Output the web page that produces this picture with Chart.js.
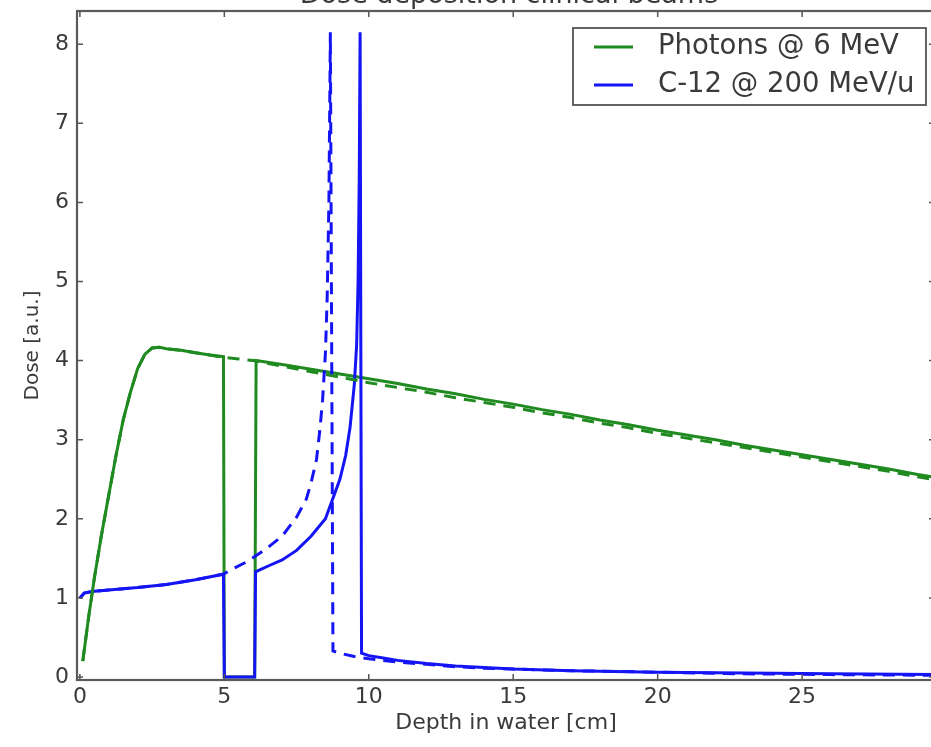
<!DOCTYPE html>
<html>
<head>
<meta charset="utf-8">
<title>Dose deposition clinical beams</title>
<script src="https://cdn.jsdelivr.net/npm/chart.js@4"></script>
<style>
  html, body { margin: 0; padding: 0; background: #fff; overflow: hidden; }
  #wrap { width: 940px; height: 747px; }
</style>
</head>
<body>
<div id="wrap"><canvas id="dose-chart" width="940" height="747"></canvas></div>
<script>
// Photons @ 6 MeV, with the 5-6 cm air gap (solid)
const photonDepth = [0.1, 0.3, 0.5, 0.75, 1, 1.25, 1.5, 1.75, 2, 2.25, 2.5, 2.75, 3, 3.5, 4, 4.5, 4.97, 5.0,
  6.05, 6.1, 7, 8, 9, 10, 11, 12, 13, 14, 15, 16, 17, 18, 19, 20, 21, 22, 23, 24, 25, 26, 27, 28, 29, 30];
const photonDose = [0.2, 0.75, 1.25, 1.8, 2.3, 2.8, 3.25, 3.6, 3.9, 4.08, 4.16, 4.17, 4.15, 4.13, 4.1, 4.07, 4.05, 0,
  0, 4.0, 3.95, 3.89, 3.83, 3.77, 3.71, 3.64, 3.58, 3.51, 3.45, 3.38, 3.32, 3.25, 3.19, 3.12, 3.06, 3.0, 2.93, 2.87, 2.81, 2.75, 2.69, 2.63, 2.56, 2.5];

// Photons in plain water (dashed)
const photonWaterDepth = [0.1, 0.3, 0.5, 0.75, 1, 1.25, 1.5, 1.75, 2, 2.25, 2.5, 2.75, 3, 3.5, 4, 4.5, 5, 5.5,
  6, 7, 8, 9, 10, 11, 12, 13, 14, 15, 16, 17, 18, 19, 20, 21, 22, 23, 24, 25, 26, 27, 28, 29, 30];
const photonWaterDose = [0.2, 0.75, 1.25, 1.8, 2.3, 2.8, 3.25, 3.6, 3.9, 4.08, 4.16, 4.17, 4.15, 4.13, 4.1, 4.07, 4.04, 4.02,
  4.0, 3.93, 3.86, 3.79, 3.72, 3.66, 3.6, 3.53, 3.47, 3.41, 3.34, 3.28, 3.21, 3.15, 3.08, 3.02, 2.96, 2.9, 2.84, 2.78, 2.72, 2.66, 2.6, 2.53, 2.47];

// C-12 @ 200 MeV/u, with the air gap (solid)
const carbonDepth = [0, 0.15, 0.4, 1, 2, 3, 4, 4.97, 5.0, 6.05, 6.08, 6.5, 7, 7.5, 8, 8.5, 9, 9.2, 9.35, 9.5, 9.58,
  9.63, 9.67, 9.7, 9.75, 10, 10.5, 11, 12, 13, 14, 15, 17, 20, 23, 26, 30];
const carbonDose = [1.0, 1.06, 1.08, 1.1, 1.13, 1.17, 1.23, 1.3, 0, 0, 1.33, 1.4, 1.48, 1.6, 1.78, 2.0, 2.5, 2.8, 3.15, 3.7, 4.2,
  5.0, 6.3, 8.15, 0.3, 0.27, 0.24, 0.21, 0.17, 0.14, 0.12, 0.1, 0.08, 0.06, 0.05, 0.04, 0.03];

// C-12 in plain water (dashed)
const carbonWaterDepth = [0, 0.15, 0.4, 1, 2, 3, 4, 4.97, 5.3, 5.8, 6.45, 7, 7.25, 7.5, 7.84, 8.0, 8.19, 8.3, 8.4, 8.5,
  8.56, 8.62, 8.67, 8.76, 9, 9.5, 10, 11, 12, 13, 14, 15, 17, 20, 23, 26, 30];
const carbonWaterDose = [1.0, 1.06, 1.08, 1.1, 1.13, 1.17, 1.23, 1.3, 1.37, 1.46, 1.62, 1.78, 1.9, 2.02, 2.25, 2.45, 2.75, 3.1, 3.5, 4.1,
  4.8, 6.0, 8.15, 0.33, 0.3, 0.26, 0.23, 0.19, 0.16, 0.13, 0.11, 0.1, 0.08, 0.06, 0.04, 0.03, 0.02];

const xTicks = [0, 5, 10, 15, 20, 25];
const yTicks = [0, 1, 2, 3, 4, 5, 6, 7, 8];
const seriesLabels = ['Photons @ 6 MeV', 'C-12 @ 200 MeV/u'];

const GREEN = '#1f8a1f';
const BLUE = '#1414f5';
const TEXT = '#3a3a3a';
const FONT = 'DejaVu Sans';

function toPoints(xs, ys) {
    return xs.map((x, i) => ({ x: x, y: ys[i] }));
}

// cadre + graduations vers l'intérieur sur les quatre côtés
const framePlugin = {
    id: 'frame',
    afterDatasetsDraw(chart) {
        const { ctx, chartArea: a, scales } = chart;
        ctx.save();
        ctx.strokeStyle = '#555';
        ctx.lineWidth = 1.5;
        ctx.beginPath();
        xTicks.forEach(v => {
            const px = scales.x.getPixelForValue(v);
            ctx.moveTo(px, a.bottom); ctx.lineTo(px, a.bottom - 6);
            ctx.moveTo(px, a.top); ctx.lineTo(px, a.top + 6);
        });
        yTicks.forEach(v => {
            const py = scales.y.getPixelForValue(v);
            ctx.moveTo(a.left, py); ctx.lineTo(a.left + 6, py);
            ctx.moveTo(a.right, py); ctx.lineTo(a.right - 6, py);
        });
        ctx.stroke();
        ctx.lineWidth = 2.2;
        ctx.strokeStyle = '#5a5a5a';
        ctx.strokeRect(a.left, a.top, a.right - a.left, a.bottom - a.top);
        ctx.restore();
    }
};

// titre (coupé en haut) et légende encadrée en haut à droite
const legendPlugin = {
    id: 'boxLegend',
    afterDraw(chart) {
        const { ctx, chartArea: a } = chart;
        ctx.save();
        ctx.fillStyle = TEXT;
        ctx.font = '27px "' + FONT + '"';
        ctx.textAlign = 'center';
        ctx.textBaseline = 'alphabetic';
        ctx.fillText('Dose deposition clinical beams', (a.left + a.right) / 2 + 3, 3);

        const boxLeft = 573, boxTop = 28, boxW = 353, boxH = 77;
        ctx.fillStyle = '#fff';
        ctx.fillRect(boxLeft, boxTop, boxW, boxH);
        ctx.strokeStyle = '#555';
        ctx.lineWidth = 1.8;
        ctx.strokeRect(boxLeft, boxTop, boxW, boxH);

        const entries = [
            { label: seriesLabels[0], color: GREEN },
            { label: seriesLabels[1], color: BLUE }
        ];
        ctx.font = '27.5px "' + FONT + '"';
        ctx.textAlign = 'left';
        ctx.textBaseline = 'middle';
        entries.forEach((e, i) => {
            const y = boxTop + 19 + i * 38;
            ctx.strokeStyle = e.color;
            ctx.lineWidth = 3;
            ctx.beginPath();
            ctx.moveTo(boxLeft + 21, y);
            ctx.lineTo(boxLeft + 60, y);
            ctx.stroke();
            ctx.fillStyle = TEXT;
            ctx.fillText(e.label, boxLeft + 85, y);
        });
        ctx.restore();
    }
};

const ctx = document.getElementById('dose-chart').getContext('2d');

new Chart(ctx, {
    type: 'scatter',
    data: {
        datasets: [
            {
                label: 'C-12 water',
                data: toPoints(carbonWaterDepth, carbonWaterDose),
                borderColor: BLUE,
                borderDash: [12, 8],
                order: 1
            },
            {
                label: 'Photons water',
                data: toPoints(photonWaterDepth, photonWaterDose),
                borderColor: GREEN,
                borderDash: [12, 8],
                order: 2
            },
            {
                label: seriesLabels[1],
                data: toPoints(carbonDepth, carbonDose),
                borderColor: BLUE,
                order: 3
            },
            {
                label: seriesLabels[0],
                data: toPoints(photonDepth, photonDose),
                borderColor: GREEN,
                order: 4
            }
        ]
    },
    options: {
        responsive: false,
        animation: false,
        showLine: true,
        elements: {
            point: { radius: 0, hoverRadius: 0 },
            line: { borderWidth: 3, tension: 0, fill: false, borderJoinStyle: 'miter' }
        },
        layout: { padding: { left: 0, top: 11, right: 5, bottom: 0 } },
        plugins: {
            legend: { display: false },
            tooltip: { enabled: false }
        },
        scales: {
            x: {
                type: 'linear',
                min: -0.1,
                max: 29.6,
                afterBuildTicks: s => { s.ticks = xTicks.map(v => ({ value: v })); },
                afterFit: s => {
                    s.height = 67;
                    s.paddingLeft = 0;
                    s.paddingRight = 0;
                },
                grid: { display: false, drawTicks: false, tickLength: 0 },
                border: { display: false },
                ticks: {
                    font: { family: FONT, size: 22 },
                    color: TEXT,
                    padding: 4,
                    maxRotation: 0,
                    autoSkip: false
                },
                title: {
                    display: true,
                    text: 'Depth in water [cm]',
                    font: { family: FONT, size: 22 },
                    color: TEXT,
                    padding: { top: 0, bottom: 11 }
                }
            },
            y: {
                min: -0.038,
                max: 8.42,
                afterBuildTicks: s => { s.ticks = yTicks.map(v => ({ value: v })); },
                afterFit: s => {
                    s.width = 77;
                    s.paddingTop = 0;
                    s.paddingBottom = 0;
                },
                grid: { display: false, drawTicks: false, tickLength: 0 },
                border: { display: false },
                ticks: {
                    font: { family: FONT, size: 22 },
                    color: TEXT,
                    padding: 8
                },
                title: {
                    display: true,
                    text: 'Dose [a.u.]',
                    font: { family: FONT, size: 20 },
                    color: TEXT,
                    padding: { top: 21, bottom: 0 }
                }
            }
        }
    },
    plugins: [framePlugin, legendPlugin]
});
</script>
</body>
</html>
